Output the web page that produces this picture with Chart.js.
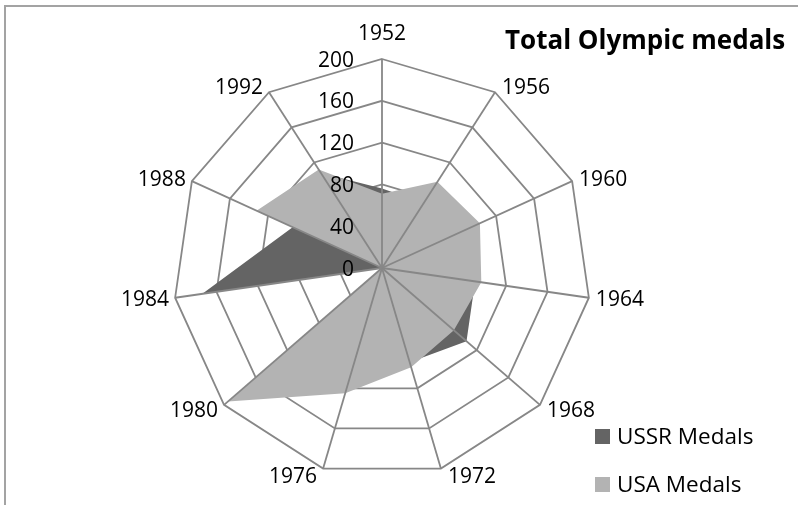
<!DOCTYPE html>
<html>
  <head>
    <meta charset="UTF-8">
    <title>Total Olympic medals</title>
    <script src="https://cdn.jsdelivr.net/npm/chart.js"></script>
    <style>
      html, body { margin: 0; padding: 0; background: #fff; }
      #wrap { position: relative; width: 798px; height: 505px; overflow: hidden; }
      #frame { position: absolute; left: 4px; top: 5px; right: -10px; bottom: -10px;
               border-top: 2px solid #a3a3a3; border-left: 2px solid #a3a3a3; }
      canvas { position: absolute; left: 0; top: 0; }
    </style>
  </head>
  <body>
    <div id="wrap">
      <div id="frame"></div>
      <canvas id="myChart" width="798" height="505"></canvas>
    </div>

    <script>
      // données
      const years = ['1952', '1956', '1960', '1964', '1968', '1972', '1976', '1980', '1984', '1988', '1992'];
      const ussrMedals = [76, 74, 71, 90, 107, 94, 94, 0, 174, 94, 108];
      const usaMedals = [71, 98, 103, 96, 91, 99, 125, 195, 0, 132, 112];
      const tickStep = 40;
      const tickMax = 200;

      // mise en page
      const centerX = 382, centerY = 268, radius = 209;
      const font = "'Open Sans', sans-serif";
      const darkGray = '#646464';
      const lightGray = '#b3b3b3';
      const gridGray = '#878787';

      // rayons dessinés au-dessus des aires, étiquettes, titre et légende
      const excelLook = {
        id: 'excelLook',
        afterDatasetsDraw(chart) {
          const ctx = chart.ctx;
          const scale = chart.scales.r;
          ctx.save();
          ctx.strokeStyle = gridGray;
          ctx.lineWidth = 1.8;
          years.forEach((y, i) => {
            const p = scale.getPointPosition(i, scale.drawingArea);
            ctx.beginPath();
            ctx.moveTo(scale.xCenter, scale.yCenter);
            ctx.lineTo(p.x, p.y);
            ctx.stroke();
          });
          ctx.restore();
        },
        afterDraw(chart) {
          const ctx = chart.ctx;
          const scale = chart.scales.r;
          ctx.save();
          ctx.fillStyle = '#000';
          ctx.textBaseline = 'alphabetic';

          // années
          ctx.font = '21px ' + font;
          const n = years.length;
          years.forEach((y, i) => {
            const a = i * 2 * Math.PI / n;
            const s = Math.sin(a), c = Math.cos(a);
            const v = scale.getPointPosition(i, scale.drawingArea);
            let x, mid;
            if (Math.abs(s) < 0.1) {
              ctx.textAlign = 'center';
              x = v.x;
              mid = v.y - 27 * c;
            } else {
              ctx.textAlign = s > 0 ? 'left' : 'right';
              x = v.x + (s > 0 ? 7 : -6);
              mid = v.y - 7 * c;
            }
            ctx.fillText(y, x, mid + 7.5);
          });

          // graduations
          ctx.textAlign = 'right';
          scale.ticks.forEach(t => {
            const y = scale.yCenter - scale.getDistanceFromCenterForValue(t.value);
            ctx.fillText(String(t.value), scale.xCenter - 28, y + 7.5);
          });

          // titre
          ctx.textAlign = 'left';
          ctx.font = 'bold 26px ' + font;
          ctx.fillText('Total Olympic medals', 505, 49);

          // légende
          ctx.font = '22.5px ' + font;
          ctx.fillStyle = darkGray;
          ctx.fillRect(595, 429, 15, 15);
          ctx.fillStyle = lightGray;
          ctx.fillRect(595, 477, 15, 15);
          ctx.fillStyle = '#000';
          ctx.fillText('USSR Medals', 617, 444);
          ctx.fillText('USA Medals', 617, 492);
          ctx.restore();
        }
      };

      const ctx = document.getElementById('myChart').getContext('2d');
      const chart = new Chart(ctx, {
        type: 'radar',
        data: {
          labels: years,
          datasets: [{
            label: 'USSR Medals',
            data: ussrMedals,
            backgroundColor: darkGray,
            borderColor: 'transparent',
            borderWidth: 0,
            pointRadius: 0,
            fill: true,
            order: 1
          },
          {
            label: 'USA Medals',
            data: usaMedals,
            backgroundColor: lightGray,
            borderColor: 'transparent',
            borderWidth: 0,
            pointRadius: 0,
            fill: true,
            order: 0
          }]
        },
        options: {
          responsive: false,
          animation: false,
          devicePixelRatio: 1,
          plugins: {
            legend: { display: false },
            tooltip: { enabled: false }
          },
          scales: {
            r: {
              min: 0,
              max: tickMax,
              ticks: { stepSize: tickStep, display: false },
              pointLabels: { display: false },
              angleLines: { display: false },
              grid: { color: gridGray, lineWidth: 1.8 },
              afterFit(scale) {
                scale.xCenter = centerX;
                scale.yCenter = centerY;
                scale.drawingArea = radius;
              }
            }
          }
        },
        plugins: [excelLook]
      });
    </script>
  </body>
</html>
